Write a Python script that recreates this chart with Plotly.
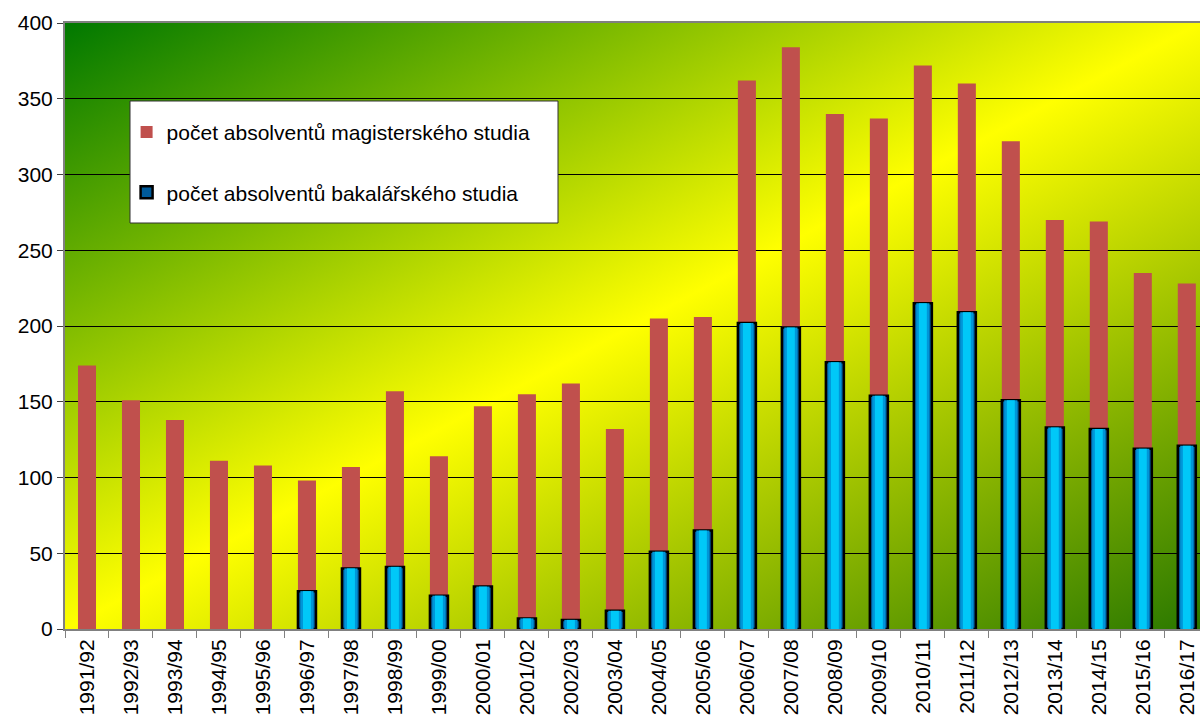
import base64
import plotly.graph_objects as go

years = ["1991/92", "1992/93", "1993/94", "1994/95", "1995/96", "1996/97", "1997/98",
         "1998/99", "1999/00", "2000/01", "2001/02", "2002/03", "2003/04", "2004/05",
         "2005/06", "2006/07", "2007/08", "2008/09", "2009/10", "2010/11", "2011/12",
         "2012/13", "2013/14", "2014/15", "2015/16", "2016/17"]
bakalar = [0, 0, 0, 0, 0, 25, 40, 41, 22, 28, 7, 6, 12, 51, 65, 202, 199, 176, 154,
           215, 209, 151, 133, 132, 119, 121]
magistr = [174, 151, 138, 111, 108, 73, 67, 116, 92, 119, 148, 156, 120, 154, 141,
           160, 185, 164, 183, 157, 151, 171, 137, 137, 116, 107]
y_ticks = [0, 50, 100, 150, 200, 250, 300, 350, 400]

name_mag = "počet absolventů magisterského studia"
name_bak = "počet absolventů bakalářského studia"

FONT = "Liberation Sans, Arial, sans-serif"

# zero-valued bachelor bars are not drawn (no outline at the baseline)
bak_drawn = [v if v > 0 else None for v in bakalar]

svg = ("<svg xmlns='http://www.w3.org/2000/svg' width='100' height='100' viewBox='0 0 100 100' "
       "preserveAspectRatio='none'><defs><linearGradient id='g' x1='0' y1='0' x2='1' y2='1'>"
       "<stop offset='0' stop-color='#007800'/><stop offset='0.5' stop-color='#ffff00'/>"
       "<stop offset='1' stop-color='#2a7800'/></linearGradient></defs>"
       "<rect width='100' height='100' fill='url(#g)'/></svg>")
bg_src = "data:image/svg+xml;base64," + base64.b64encode(svg.encode()).decode()

fig = go.Figure()
fig.add_trace(go.Bar(x=years, y=magistr, base=bakalar, name=name_mag, width=0.41,
                     marker=dict(color="#c0504d", line=dict(width=0)),
                     legendgroup="m", legendrank=1))
fig.add_trace(go.Bar(x=years, y=bak_drawn, name=name_bak, width=0.41,
                     marker=dict(color="#005a9a", line=dict(color="black", width=2.5)),
                     legendgroup="b", legendrank=2))
fig.add_trace(go.Bar(x=years, y=bak_drawn, width=0.30, showlegend=False, hoverinfo="skip",
                     marker=dict(color="#0096d8", line=dict(width=0))))
fig.add_trace(go.Bar(x=years, y=bak_drawn, width=0.18, showlegend=False, hoverinfo="skip",
                     marker=dict(color="#00c8f8", line=dict(width=0))))

# legend frame
x0 = (130 - 65) / 1135
x1 = (558 - 65) / 1135
y1 = (629 - 101) / 606
y0 = (629 - 223) / 606
fig.add_shape(type="rect", xref="paper", yref="paper", x0=x0, x1=x1, y0=y0, y1=y1,
              fillcolor="white", line=dict(color="#303030", width=1), layer="above")

fig.update_layout(
    width=1200, height=720,
    margin=dict(l=65, r=0, t=23, b=91),
    barmode="overlay",
    paper_bgcolor="white",
    plot_bgcolor="rgba(0,0,0,0)",
    font=dict(family=FONT, size=20, color="black"),
    images=[dict(source=bg_src, xref="paper", yref="paper", x=0, y=1, sizex=1, sizey=1,
                 xanchor="left", yanchor="top", sizing="stretch", layer="below")],
    legend=dict(x=x0 - 0.003, y=y1 - 0.018, xanchor="left", yanchor="top",
                bgcolor="rgba(0,0,0,0)", borderwidth=0, traceorder="grouped",
                tracegroupgap=30, font=dict(family=FONT, size=21, color="black")),
    showlegend=True,
)
fig.update_xaxes(range=[-0.5, 25.3], tickangle=-90, tickson="boundaries",
                 ticks="outside", ticklen=7, tickcolor="#808080", tickwidth=1,
                 showline=True, linecolor="#808080", linewidth=2, mirror=True,
                 showgrid=False, tickfont=dict(size=21))
fig.update_yaxes(range=[0, 400], tickvals=y_ticks, ticks="outside", ticklen=6,
                 tickcolor="#404040", tickwidth=1, showline=True, linecolor="#808080",
                 linewidth=2, showgrid=True, gridcolor="black", gridwidth=1,
                 zeroline=False, tickfont=dict(size=21))

fig.write_html("out.html")
